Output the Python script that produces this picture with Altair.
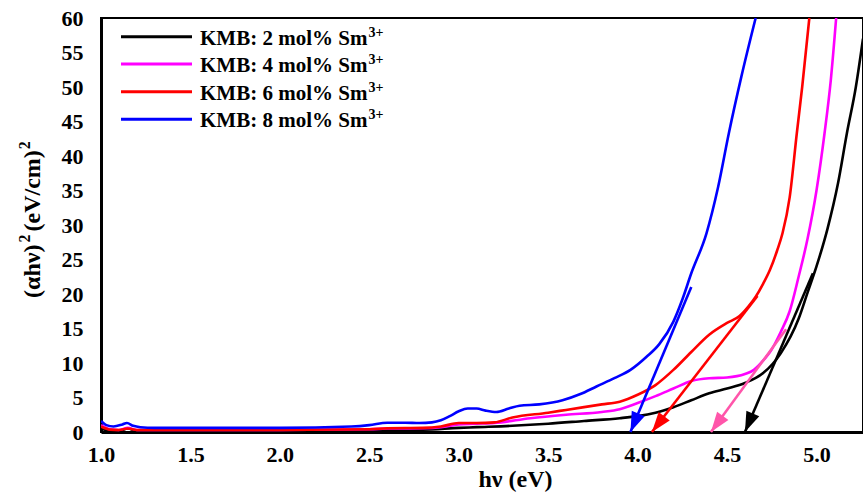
import math
import altair as alt
import pandas as pd

# ---------------- data ----------------
series_names = ["KMB: 2 mol% Sm", "KMB: 4 mol% Sm", "KMB: 6 mol% Sm", "KMB: 8 mol% Sm"]
series_sup = ["3+", "3+", "3+", "3+"]
series_colors = ["#000000", "#ff00ff", "#ff0000", "#0000ff"]

x_2mol = [1.00, 1.05, 1.10, 1.15, 1.20, 1.5, 2.0, 2.5, 2.6, 2.8, 3.0, 3.1, 3.3, 3.5, 3.7, 3.9,
          4.0, 4.1, 4.2, 4.3, 4.4, 4.5, 4.6, 4.7, 4.8, 4.9, 4.95, 5.0, 5.06, 5.12, 5.17, 5.22, 5.26]
y_2mol = [0.5, 0.2, 0.15, 0.5, 0.15, 0.1, 0.1, 0.2, 0.3, 0.35, 0.6, 0.7, 0.9, 1.2, 1.6, 2.0,
          2.3, 2.8, 3.6, 4.6, 5.6, 6.3, 7.1, 8.5, 11.4, 16.4, 20.2, 24.0, 29.3, 36.0, 43.3, 50.0, 57.0]

x_4mol = [1.00, 1.05, 1.10, 1.15, 1.20, 1.5, 2.0, 2.5, 2.6, 2.8, 2.9, 3.0, 3.1, 3.2, 3.4, 3.6,
          3.8, 3.9, 4.0, 4.1, 4.2, 4.3, 4.4, 4.5, 4.6, 4.65, 4.7, 4.75, 4.8, 4.85, 4.9, 4.95,
          5.0, 5.045, 5.08, 5.11]
y_4mol = [1.0, 0.4, 0.3, 0.6, 0.3, 0.3, 0.3, 0.4, 0.5, 0.55, 0.7, 1.1, 1.2, 1.3, 2.0, 2.5,
          2.9, 3.3, 4.2, 5.2, 6.3, 7.4, 7.8, 7.9, 8.4, 9.0, 10.3, 12.0, 14.5, 17.5, 22.5, 28.0,
          35.0, 43.3, 51.0, 60.0]

x_6mol = [1.00, 1.05, 1.10, 1.15, 1.20, 1.5, 2.0, 2.5, 2.6, 2.8, 2.9, 3.0, 3.1, 3.2, 3.3, 3.5,
          3.6, 3.8, 3.9, 4.0, 4.1, 4.2, 4.3, 4.4, 4.5, 4.57, 4.62, 4.66, 4.7, 4.74, 4.78, 4.81,
          4.85, 4.89, 4.92, 4.96]
y_6mol = [0.8, 0.35, 0.3, 0.5, 0.3, 0.3, 0.3, 0.4, 0.55, 0.6, 0.8, 1.3, 1.3, 1.4, 2.1, 2.8,
          3.2, 4.0, 4.4, 5.4, 6.8, 9.0, 11.6, 14.1, 15.8, 16.8, 18.2, 19.6, 21.4, 23.5, 26.3, 28.8,
          34.0, 43.3, 50.0, 60.0]

x_8mol = [1.00, 1.03, 1.07, 1.12, 1.145, 1.18, 1.22, 1.3, 1.5, 2.0, 2.4, 2.5, 2.6, 2.7, 2.78,
          2.85, 2.9, 2.95, 3.0, 3.05, 3.1, 3.15, 3.21, 3.28, 3.34, 3.45, 3.58, 3.68, 3.77, 3.87,
          3.96, 4.05, 4.12, 4.2, 4.25, 4.3, 4.385, 4.45, 4.51, 4.58, 4.66]
y_8mol = [1.6, 1.0, 0.8, 1.1, 1.3, 0.9, 0.7, 0.6, 0.6, 0.6, 0.8, 1.0, 1.35, 1.35, 1.3,
          1.4, 1.7, 2.3, 3.0, 3.4, 3.4, 3.1, 2.9, 3.4, 3.8, 4.0, 4.6, 5.5, 6.6, 7.8,
          9.0, 10.9, 12.7, 16.0, 19.2, 23.0, 28.8, 35.5, 43.3, 51.5, 60.0]

# tangent (Tauc) lines: start point and x-intercept
arrow_colors = ["#000000", "#ff55aa", "#ff0000", "#0000ff"]
arrow_x_start = [4.98, 4.83, 4.67, 4.30]
arrow_y_start = [23.0, 14.9, 19.7, 21.0]
arrow_x_end = [4.60, 4.41, 4.08, 3.96]

x_ticks = [1.0, 1.5, 2.0, 2.5, 3.0, 3.5, 4.0, 4.5, 5.0]
y_ticks = [0, 5, 10, 15, 20, 25, 30, 35, 40, 45, 50, 55, 60]
x_domain = [1.0, 5.26]
y_domain = [0, 60]

# y-axis title pieces: (text, is superscript)
y_title_parts = [("(αhν)", False), ("2", True), ("(eV/cm)", False), ("2", True)]

# ---------------- layout ----------------
W, H = 762, 414
FONT = "Liberation Serif"

rows = []
for name, xs_, ys_ in zip(series_names, [x_2mol, x_4mol, x_6mol, x_8mol],
                          [y_2mol, y_4mol, y_6mol, y_8mol]):
    for i, (a, b) in enumerate(zip(xs_, ys_)):
        rows.append({"series": name, "x": a, "y": b, "order": i})
curves = pd.DataFrame(rows)

sx = W / (x_domain[1] - x_domain[0])
sy = H / (y_domain[1] - y_domain[0])
head_r = 10
arows = []
for c, xs0, ys0, xe in zip(arrow_colors, arrow_x_start, arrow_y_start, arrow_x_end):
    dx = (xe - xs0) * sx
    dy = ys0 * sy  # pixels, downward
    n = math.hypot(dx, dy)
    ux, uy = dx / n, dy / n
    ang = math.degrees(math.atan2(dx, -dy)) % 360
    arows.append({"color": c, "x0": xs0, "y0": ys0, "x1": xe, "y1": 0.0,
                  "hx": xe - ux * head_r / sx, "hy": uy * head_r / sy, "angle": ang})
arrows = pd.DataFrame(arows)

xs = alt.Scale(domain=x_domain, nice=False, zero=False)
ys = alt.Scale(domain=y_domain, nice=False)

x_axis = alt.Axis(values=x_ticks, format=".1f", title="hν (eV)", grid=False, ticks=False,
                  labelFont=FONT, labelFontWeight="bold", labelFontSize=22, labelColor="black",
                  labelPadding=12, labelFlush=False, labelOverlap=False,
                  titleFont=FONT, titleFontWeight="bold", titleFontSize=24, titleColor="black",
                  titleX=414, titleY=47, titleBaseline="middle", titleAnchor="start", titleAlign="center",
                  domainColor="black", domainWidth=3)
y_axis = alt.Axis(values=y_ticks, title=None, grid=False, ticks=False, tickCount=13,
                  labelFont=FONT, labelFontWeight="bold", labelFontSize=22, labelColor="black",
                  labelPadding=18, labelFlush=False, labelOverlap=False,
                  domainColor="black", domainWidth=3)

line_layer = alt.Chart(curves).mark_line(strokeWidth=2.6, interpolate="monotone", clip=True).encode(
    x=alt.X("x:Q", scale=xs, axis=x_axis),
    y=alt.Y("y:Q", scale=ys, axis=y_axis),
    color=alt.Color("series:N", scale=alt.Scale(domain=series_names, range=series_colors), legend=None),
    detail="series:N",
    order="order:Q",
)

arrow_lines = alt.Chart(arrows).mark_rule(strokeWidth=2.6).encode(
    x=alt.X("x0:Q", scale=xs, axis=x_axis), y=alt.Y("y0:Q", scale=ys, axis=y_axis),
    x2="x1:Q", y2="y1:Q",
    color=alt.Color("color:N", scale=None),
)

arrow_heads = alt.Chart(arrows).mark_point(
    shape="M0,-1L-0.7,1L0.7,1Z", filled=True, opacity=1, size=(2 * head_r) ** 2, strokeWidth=0
).encode(
    x=alt.X("hx:Q", scale=xs, axis=x_axis), y=alt.Y("hy:Q", scale=ys, axis=y_axis),
    angle=alt.Angle("angle:Q", scale=None),
    color=alt.Color("color:N", scale=None),
)

layers = [line_layer, arrow_lines, arrow_heads]

# manual legend (top-left inside the plot)
LEG_FS = 21
leg_line_y = [18.7, 46, 73.7, 101.3]
main_w = 7.972 * LEG_FS  # approx width of "KMB: n mol% Sm"
for name, sup, col, yy in zip(series_names, series_sup, series_colors, leg_line_y):
    ldf = pd.DataFrame({"label": [name], "sup": [sup]})
    layers.append(alt.Chart(ldf).mark_rule(strokeWidth=3, color=col).encode(
        x=alt.value(20), x2=alt.value(91), y=alt.value(yy)))
    layers.append(alt.Chart(ldf).mark_text(
        align="left", baseline="middle", font=FONT, fontWeight="bold", fontSize=LEG_FS, color="black"
    ).encode(x=alt.value(99), y=alt.value(yy + 2), text="label:N"))
    layers.append(alt.Chart(ldf).mark_text(
        align="left", baseline="middle", font=FONT, fontWeight="bold", fontSize=14, color="black"
    ).encode(x=alt.value(99 + main_w + 1), y=alt.value(yy - 4), text="sup:N"))

# manual rotated y-axis title with real superscripts
TFS, SFS = 24, 16
em = {"(αhν)": 2.272, "(eV/cm)": 3.387, "2": 0.5}
pos = 280.0
for txt, is_sup in y_title_parts:
    fs = SFS if is_sup else TFS
    tdf = pd.DataFrame({"t": [txt]})
    layers.append(alt.Chart(tdf).mark_text(
        align="left", baseline="middle", angle=270, font=FONT, fontWeight="bold", fontSize=fs, color="black"
    ).encode(x=alt.value(-76 if is_sup else -68), y=alt.value(pos), text="t:N"))
    pos -= em[txt] * fs + (1 if not is_sup else 3)

chart = alt.layer(*layers).properties(
    width=W, height=H,
    autosize=alt.AutoSizeParams(type="none"),
    padding={"left": 101, "top": 18, "right": 0, "bottom": 63},
    background="white",
).configure_view(stroke="black", strokeWidth=2).configure_axis(labelOverlap=False)

chart.save("out.html", embed_options={"renderer": "svg", "actions": False})
